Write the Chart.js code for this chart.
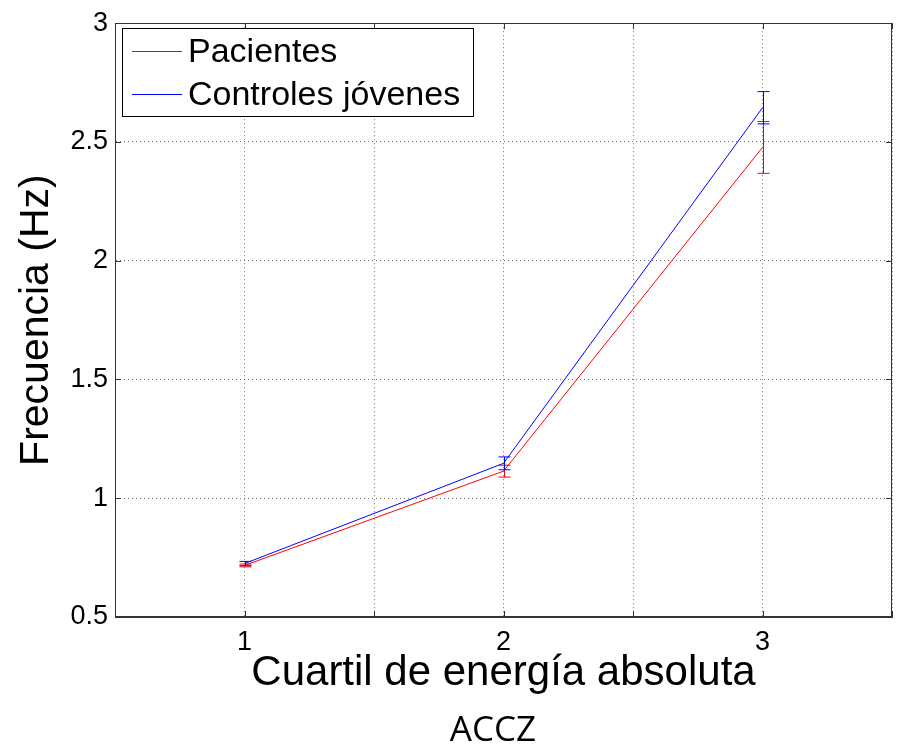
<!DOCTYPE html>
<html>
<head>
<meta charset="utf-8">
<script src="https://cdn.jsdelivr.net/npm/chart.js@4"></script>
<style>
  body { margin: 0; background: #fff; }
  #wrap { width: 901px; height: 752px; }
</style>
</head>
<body>
<div id="wrap"><canvas id="frecuencia" width="901" height="752"></canvas></div>
<script>
const cuartiles = [1, 2, 3];
const pacientes = [0.717, 1.114, 2.477];
const errPacientes = [0.006, 0.025, 0.109];
const controles = [0.725, 1.147, 2.644];
const errControles = [0.009, 0.027, 0.068];

const rojo = "#ff0000";
const azul = "#0000ff";
const fuente = "'Liberation Sans', Arial, sans-serif";

// error bars with small caps, drawn through the scales
const barrasError = {
  id: "barrasError",
  afterDatasetsDraw(chart) {
    const { ctx, scales: { x, y } } = chart;
    chart.data.datasets.forEach((ds) => {
      ctx.save();
      ctx.strokeStyle = ds.borderColor;
      ctx.lineWidth = 1;
      ds.data.forEach((p, i) => {
        const px = Math.round(x.getPixelForValue(p.x)) + 0.5;
        const top = y.getPixelForValue(p.y + ds.err[i]);
        const bot = y.getPixelForValue(p.y - ds.err[i]);
        ctx.beginPath();
        ctx.moveTo(px, top);
        ctx.lineTo(px, bot);
        ctx.moveTo(px - 6, top);
        ctx.lineTo(px + 6, top);
        ctx.moveTo(px - 6, bot);
        ctx.lineTo(px + 6, bot);
        ctx.stroke();
      });
      ctx.restore();
    });
  },
};

// matlab style box with inward ticks, legend box and the ACCZ caption
const marco = {
  id: "marco",
  afterDraw(chart) {
    const { ctx, chartArea: a, scales: { x, y } } = chart;
    ctx.save();
    ctx.strokeStyle = "#333";
    ctx.lineWidth = 1;
    ctx.beginPath();
    x.ticks.forEach((t) => {
      const px = Math.round(x.getPixelForValue(t.value)) + 0.5;
      ctx.moveTo(px, a.bottom); ctx.lineTo(px, a.bottom - 6);
      ctx.moveTo(px, a.top); ctx.lineTo(px, a.top + 6);
    });
    y.ticks.forEach((t) => {
      const py = Math.round(y.getPixelForValue(t.value)) + 0.5;
      ctx.moveTo(a.left, py); ctx.lineTo(a.left + 6, py);
      ctx.moveTo(a.right, py); ctx.lineTo(a.right - 6, py);
    });
    ctx.stroke();
    ctx.strokeRect(Math.round(a.left) + 0.5, Math.round(a.top) + 0.5,
      Math.round(a.right - a.left) - 1, Math.round(a.bottom - a.top) - 1);

    // legend
    const lx = 122.5, ly = 28.5, lw = 351, lh = 88;
    ctx.fillStyle = "#fff";
    ctx.fillRect(lx, ly, lw, lh);
    ctx.strokeStyle = "#000";
    ctx.strokeRect(lx, ly, lw, lh);
    ctx.font = "34px " + fuente;
    ctx.textBaseline = "middle";
    const colores = [rojo, azul];
    chart.data.datasets.forEach((ds, i) => {
      const ry = Math.round(ly + 22 + i * 43) + 0.5;
      ctx.strokeStyle = colores[i];
      ctx.beginPath();
      ctx.moveTo(132, ry);
      ctx.lineTo(182, ry);
      ctx.stroke();
      ctx.fillStyle = "#000";
      ctx.fillText(ds.label, 188, ry + 1);
    });

    ctx.font = "35px 'Open Sans', sans-serif";
    ctx.textAlign = "center";
    ctx.fillText("ACCZ", 493, 731);
    ctx.restore();
  },
};

new Chart(document.getElementById("frecuencia"), {
  type: "line",
  data: {
    datasets: [
      {
        label: "Pacientes",
        data: cuartiles.map((c, i) => ({ x: c, y: pacientes[i] })),
        err: errPacientes,
        borderColor: rojo,
        borderWidth: 1,
        pointRadius: 0,
        tension: 0,
      },
      {
        label: "Controles jóvenes",
        data: cuartiles.map((c, i) => ({ x: c, y: controles[i] })),
        err: errControles,
        borderColor: azul,
        borderWidth: 1,
        pointRadius: 0,
        tension: 0,
      },
    ],
  },
  options: {
    responsive: false,
    animation: false,
    layout: { padding: { top: 18, right: 6, left: 0, bottom: 0 } },
    plugins: {
      legend: { display: false },
      tooltip: { enabled: false },
    },
    scales: {
      x: {
        type: "linear",
        min: 0.5,
        max: 3.5,
        afterFit: (s) => { s.height = 135; },
        ticks: {
          stepSize: 0.5,
          color: "#000",
          padding: 9,
          maxRotation: 0,
          font: { family: fuente, size: 27 },
          callback: (v) => (Number.isInteger(v) ? String(v) : ""),
        },
        grid: { color: "rgba(0,0,0,0.55)", drawTicks: false },
        border: { display: true, color: "#333", dash: [1, 3] },
        title: {
          display: true,
          text: "Cuartil de energía absoluta",
          color: "#000",
          font: { family: fuente, size: 42 },
          padding: { top: 0, bottom: 53 },
        },
      },
      y: {
        min: 0.5,
        max: 3,
        afterFit: (s) => { s.width = 115; },
        ticks: {
          stepSize: 0.5,
          color: "#000",
          padding: 7,
          font: { family: fuente, size: 27 },
          callback: (v) => String(v),
        },
        grid: { color: "rgba(0,0,0,0.55)", drawTicks: false },
        border: { display: true, color: "#333", dash: [1, 3] },
        title: {
          display: true,
          text: "Frecuencia (Hz)",
          color: "#000",
          font: { family: fuente, size: 41 },
          padding: { top: 12, bottom: 0 },
        },
      },
    },
  },
  plugins: [barrasError, marco],
});
</script>
</body>
</html>
